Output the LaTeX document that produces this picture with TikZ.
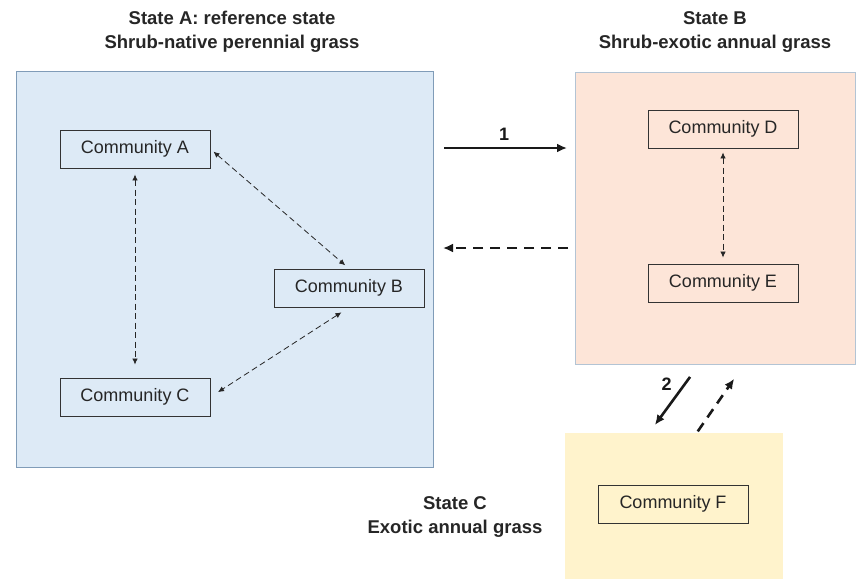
\documentclass[tikz,border=0pt]{standalone}
\usepackage{fontspec}
\setmainfont{Liberation Sans}
\usetikzlibrary{arrows.meta}
\definecolor{refblue}{RGB}{221,234,246}
\definecolor{exoticpeach}{RGB}{253,229,216}
\definecolor{annualyellow}{RGB}{255,243,204}
\definecolor{boxedge}{RGB}{128,156,184}

\begin{document}
\begin{tikzpicture}[
      x=1pt,y=-1pt,
      state box/.style ={inner sep=0,outer sep=0,fill=#1},
      community/.style ={draw=black!80,line width=0.9pt,minimum width=150pt,minimum height=38pt,
        inner sep=0,font=\fontsize{18}{22}\selectfont,text=black!85},
      state title/.style ={align=center,font=\fontsize{18.5}{24}\selectfont\bfseries,text=black!85},
      link/.style ={{Latex[length=6pt,width=5.5pt]}-{Latex[length=6pt,width=5.5pt]},
        black!85,line width=0.8pt,dash pattern=on 6pt off 3.5pt},
      transition/.style ={-{Latex[length=10pt,width=9pt]},line width=2.6pt,black!90},
      restoration/.style ={transition,dash pattern=on 10pt off 7pt}
      ]
    \useasboundingbox (0,0) rectangle (858,579);
    % the three states
    \node[state box=refblue,draw=boxedge,line width=0.9pt,
      minimum width=417pt,minimum height=396pt] (stA) at (224.5,269) {};
    \node[state box=exoticpeach,draw=boxedge!60,line width=0.8pt,
      minimum width=280pt,minimum height=292pt] (stB) at (715,218) {};
    \node[state box=annualyellow,minimum width=218pt,minimum height=146pt] (stC) at (674,506) {};
    \node[state title] (tA) at (232,32) {State A: reference state\\Shrub-native perennial grass};
    \node[state title] (tB) at (715,32) {State B\\Shrub-exotic annual grass};
    \node[state title] (tC) at (455,517) {State C\\Exotic annual grass};
    % communities
    \node[community] (cA) at (135,149) {Community A};
    \node[community] (cB) at (349,288) {Community B};
    \node[community] (cC) at (135,397) {Community C};
    \node[community] (cD) at (723,129) {Community D};
    \node[community] (cE) at (723,283) {Community E};
    \node[community] (cF) at (673,504) {Community F};
    \draw[link,shorten <=6pt,shorten >=13pt] (cA) -- (cC);
    \draw[link,shorten <=4pt,shorten >=5pt] (cA.east) -- (cB.north);
    \draw[link,shorten <=9pt,shorten >=9pt] (cB.south) -- (cC.east);
    \draw[link,shorten <=4pt,shorten >=6pt] (cD) -- (cE);
    % transitions between states
    \draw[transition,shorten <=11pt,shorten >=8pt] ([yshift=121pt]stA.east) -- node[above=3pt,font=\fontsize{18}{22}\selectfont\bfseries] (n1) {1} ([yshift=70pt]stB.west);
    \draw[restoration,shorten <=7pt,shorten >=10pt] ([yshift=-30pt]stB.west) -- ([yshift=21pt]stA.east);
    \draw[transition,shorten <=16pt,shorten >=10pt] ([xshift=-15.5pt]stB.south) -- node[left=8pt,pos=0.3,font=\fontsize{18}{22}\selectfont\bfseries] (n2) {2} ([xshift=-25pt]stC.north);
    \draw[restoration,shorten <=2pt,shorten >=18pt] ([xshift=22.6pt]stC.north) -- ([xshift=29.4pt]stB.south);
\end{tikzpicture}
\end{document}
